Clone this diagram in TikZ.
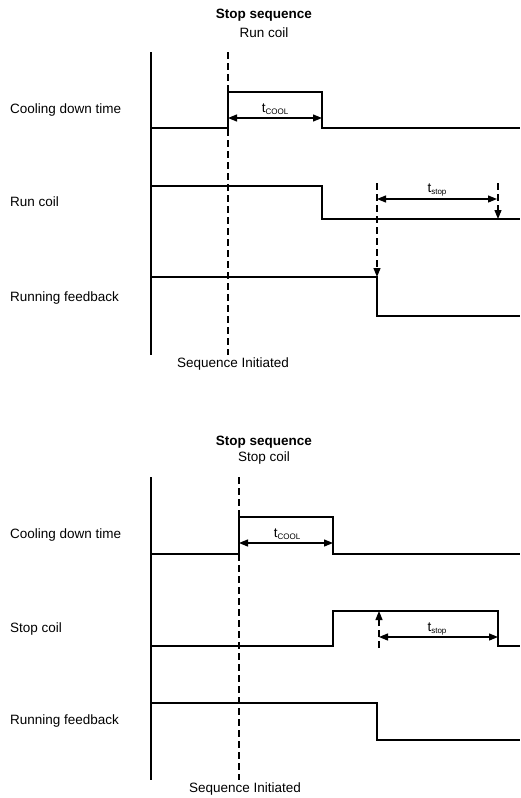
\documentclass[tikz,border=0pt]{standalone}
\usepackage{fontspec}
\setmainfont{Liberation Sans}
\usetikzlibrary{arrows.meta}
\newcommand{\tsub}[1]{t\raisebox{-0.35ex}{\fontsize{8}{9}\selectfont #1}}
\tikzset{
  wave/.style={line width=1.4pt},
  marker/.style={line width=1.2pt, dash pattern=on 7pt off 4pt},
  span/.style={line width=1.2pt, <->},
  siglabel/.style={anchor=west, inner sep=0pt, font=\fontsize{13.5}{15}\selectfont},
  txt/.style={inner sep=0pt, font=\fontsize{13.5}{15}\selectfont},
}
\begin{document}
\begin{tikzpicture}[x=1pt, y=-1pt, >={Triangle[length=9pt,width=7pt]}]
    \useasboundingbox (0,0) rectangle (520,798);

    % run coil
    \node[txt, font=\fontsize{13.5}{15}\selectfont\bfseries] (titleA) at (264,15) {Stop sequence};
    \node[txt] (subA) at (264,33) {Run coil};

    \node[siglabel] (coolA) at (10,110) {Cooling down time};
    \node[siglabel] (coilA) at (10,202) {Run coil};
    \node[siglabel] (fbA) at (10,298) {Running feedback};

    \draw[wave] (151,52) -- (151,355);

    \coordinate (startA) at (228,52);
    \coordinate (endA) at (228,355);
    \coordinate (coolOffA) at (322,118);
    \coordinate (fbTopA) at (377,183);
    \coordinate (fbA) at (377,277);
    \coordinate (stopTopA) at (498,183);
    \coordinate (stopA) at (498,219);

    \draw[wave] (151,128) -- (228,128) -- (228,92) -- (322,92) -- (322,128) -- (520,128);
    \draw[wave] (151,186) -- (322,186) -- (322,219) -- (520,219);
    \draw[wave] (151,277) -- (377,277) -- (377,316) -- (520,316);

    \draw[marker] (startA) -- (endA);
    \draw[marker, ->] (fbTopA) -- (fbA);
    \draw[marker, ->] (stopTopA) -- (stopA);

    \draw[span] (228,118) -- (coolOffA);
    \node[txt] (tcoolA) at (275,109) {\tsub{COOL}};
    \draw[span] (377,199) -- (497,199);
    \node[txt] (tstopA) at (437,190) {\tsub{stop}};

    \node[txt] (seqA) at (233,364) {Sequence Initiated};

    % stop coil
    \node[txt, font=\fontsize{13.5}{15}\selectfont\bfseries] (titleB) at (264,442) {Stop sequence};
    \node[txt] (subB) at (264,458) {Stop coil};

    \node[siglabel] (coolB) at (10,535) {Cooling down time};
    \node[siglabel] (coilB) at (10,629) {Stop coil};
    \node[siglabel] (fbB) at (10,721) {Running feedback};

    \draw[wave] (151,477) -- (151,780);

    \coordinate (startB) at (239,477);
    \coordinate (endB) at (239,780);
    \coordinate (riseLowB) at (379,648);
    \coordinate (riseB) at (379,611);

    \draw[wave] (151,554) -- (239,554) -- (239,517) -- (333,517) -- (333,554) -- (520,554);
    \draw[wave] (151,646) -- (333,646) -- (333,611) -- (498,611) -- (498,646) -- (520,646);
    \draw[wave] (151,703) -- (377,703) -- (377,740) -- (520,740);

    \draw[marker] (startB) -- (endB);
    \draw[marker, ->] (riseLowB) -- (riseB);

    \draw[span] (239,543) -- (333,543);
    \node[txt] (tcoolB) at (287,534) {\tsub{COOL}};
    \draw[span] (379,637) -- (498,637);
    \node[txt] (tstopB) at (437,629) {\tsub{stop}};

    \node[txt] (seqB) at (245,789) {Sequence Initiated};
\end{tikzpicture}
\end{document}
